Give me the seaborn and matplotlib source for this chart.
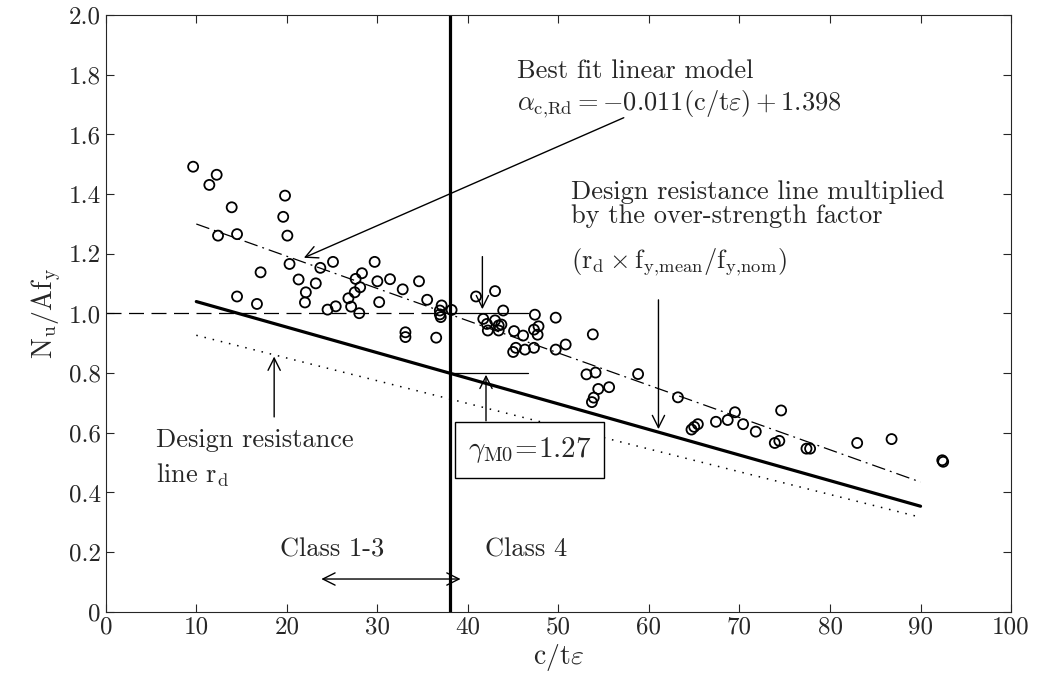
import matplotlib
matplotlib.use("Agg")
import matplotlib.pyplot as plt
import seaborn as sns
import pandas as pd

# ---------------- data ----------------
slenderness = [9.65, 12.25, 11.44, 13.91, 19.8, 19.6, 20.06, 12.4, 14.5, 17.1,
               20.3, 21.3, 22.1, 22.0, 14.5, 16.7, 23.2, 23.7, 25.1, 24.5,
               25.4, 26.8, 27.1, 27.5, 28.1, 27.6, 28.3, 28.0, 29.7, 30.0,
               30.2, 31.4, 32.8, 34.6, 35.5, 37.1, 36.9, 36.9, 37.0, 38.2,
               33.1, 33.1, 36.5, 40.9, 43.0, 43.9, 41.7, 42.1, 42.2, 43.0,
               43.4, 43.4, 43.7, 45.1, 46.1, 47.4, 47.8, 47.3, 47.7, 49.7,
               45.0, 45.3, 46.3, 47.3, 49.7, 50.8, 53.8, 53.1, 54.1, 54.4,
               55.6, 53.9, 53.7, 58.8, 63.2, 64.7, 65.0, 65.4, 67.4, 68.7,
               69.5, 70.4, 71.8, 74.6, 73.9, 74.4, 77.4, 77.8, 83.0, 86.8,
               92.4, 92.5]
resistance = [1.492, 1.465, 1.431, 1.356, 1.395, 1.324, 1.261, 1.261, 1.266, 1.138,
              1.166, 1.114, 1.071, 1.037, 1.057, 1.032, 1.101, 1.153, 1.173, 1.013,
              1.024, 1.051, 1.023, 1.071, 1.088, 1.116, 1.135, 1.001, 1.173, 1.108,
              1.038, 1.115, 1.081, 1.108, 1.046, 1.027, 1.010, 0.997, 0.988, 1.012,
              0.937, 0.921, 0.919, 1.057, 1.075, 1.010, 0.982, 0.965, 0.943, 0.977,
              0.960, 0.943, 0.963, 0.941, 0.926, 0.996, 0.957, 0.946, 0.929, 0.986,
              0.871, 0.885, 0.879, 0.885, 0.879, 0.896, 0.930, 0.796, 0.802, 0.747,
              0.753, 0.718, 0.703, 0.797, 0.719, 0.611, 0.620, 0.629, 0.637, 0.643,
              0.669, 0.629, 0.604, 0.675, 0.566, 0.573, 0.547, 0.547, 0.566, 0.579,
              0.508, 0.503]

fit_x = [10, 90]
fit_y = [1.30, 0.435]
design_over_x = [10, 90]
design_over_y = [1.04, 0.354]
design_x = [10, 90]
design_y = [0.927, 0.317]
unity_x = [0, 38]
unity_y = [1.0, 1.0]
class_limit = 38

x_ticks = [0, 10, 20, 30, 40, 50, 60, 70, 80, 90, 100]
x_ticklabels = ["0", "10", "20", "30", "40", "50", "60", "70", "80", "90", "100"]
y_ticks = [0, 0.2, 0.4, 0.6, 0.8, 1.0, 1.2, 1.4, 1.6, 1.8, 2.0]
y_ticklabels = ["0", "0.2", "0.4", "0.6", "0.8", "1.0", "1.2", "1.4", "1.6", "1.8", "2.0"]

# ---------------- style ----------------
sns.set_style("ticks")
plt.rcParams["font.family"] = ["serif"]
plt.rcParams["font.serif"] = ["cmr10", "DejaVu Serif"]
plt.rcParams["mathtext.fontset"] = "cm"
plt.rcParams["axes.unicode_minus"] = False
plt.rcParams["axes.formatter.use_mathtext"] = True

fig = plt.figure(figsize=(10.37, 6.89), dpi=100)
ax = fig.add_axes([0.102, 0.112, 0.873, 0.866])

df_pts = pd.DataFrame({"x": slenderness, "y": resistance})
sns.scatterplot(data=df_pts, x="x", y="y", ax=ax, marker="o", s=52,
                facecolor="none", edgecolor="black", linewidth=1.3, zorder=3)

sns.lineplot(x=fit_x, y=fit_y, ax=ax, color="black", lw=0.9,
             linestyle=(0, (11, 4, 1.5, 4)), zorder=2)
sns.lineplot(x=design_over_x, y=design_over_y, ax=ax, color="black", lw=2.3, zorder=2)
sns.lineplot(x=design_x, y=design_y, ax=ax, color="black", lw=1.1,
             linestyle=(0, (1, 4.5)), zorder=2)
sns.lineplot(x=unity_x, y=unity_y, ax=ax, color="black", lw=0.9,
             linestyle=(0, (12, 6)), zorder=2)
ax.axvline(class_limit, color="black", lw=2.3, zorder=2)

# ratio marks
ax.plot([38, 46.6], [1.0, 1.0], color="black", lw=0.9)
ax.plot([38, 46.6], [0.8, 0.8], color="black", lw=0.9)

ap = dict(arrowstyle="->", color="black", lw=1.0, mutation_scale=22)
fs = 19

# Best fit annotation
ax.text(45.4, 1.813, "Best fit linear model", fontsize=fs, va="center", ha="left")
ax.text(45.4, 1.702, r"$\alpha_{\mathrm{c{,}Rd}} = -0.011(\mathrm{c/t}\varepsilon) + 1.398$",
        fontsize=fs, va="center", ha="left")
ax.annotate("", xy=(21.6, 1.183), xytext=(57.5, 1.66), arrowprops=ap)

# Design resistance line multiplied
ax.text(51.4, 1.406, "Design resistance line multiplied", fontsize=fs, va="center", ha="left")
ax.text(51.4, 1.328, "by the over-strength factor", fontsize=fs, va="center", ha="left")
ax.text(51.4, 1.172, r"$(\mathrm{r_d} \times \mathrm{f_{y{,}mean}/f_{y{,}nom}})$",
        fontsize=fs, va="center", ha="left")
ax.annotate("", xy=(61.05, 0.603), xytext=(61.05, 1.055), arrowprops=ap)

# Design resistance line r_d
ax.text(5.6, 0.575, "Design resistance", fontsize=fs, va="center", ha="left")
ax.text(5.6, 0.458, r"line $\mathrm{r_d}$", fontsize=fs, va="center", ha="left")
ax.annotate("", xy=(18.6, 0.865), xytext=(18.6, 0.644), arrowprops=ap)

# gamma M0
ax.text(46.8, 0.543, r"$\gamma_{\mathrm{M0}}\!=\!1.27$", fontsize=21, va="center", ha="center",
        bbox=dict(boxstyle="square,pad=0.45", facecolor="white", edgecolor="black", lw=1.0))
ax.annotate("", xy=(42.0, 0.804), xytext=(42.0, 0.631), arrowprops=ap)
ax.annotate("", xy=(41.6, 1.005), xytext=(41.6, 1.2), arrowprops=ap)

# Class arrows
ax.text(19.2, 0.21, "Class 1-3", fontsize=fs, va="center", ha="left")
ax.text(41.9, 0.21, "Class 4", fontsize=fs, va="center", ha="left")
ax.annotate("", xy=(23.5, 0.11), xytext=(39.5, 0.11),
            arrowprops=dict(arrowstyle="<->", color="black", lw=1.0, mutation_scale=22))

ax.set_xlim(0, 100)
ax.set_ylim(0, 2.0)
ax.set_xticks(x_ticks)
ax.set_xticklabels(x_ticklabels)
ax.set_yticks(y_ticks)
ax.set_yticklabels(y_ticklabels)
ax.tick_params(direction="in", top=True, right=True, labelsize=18, length=6, width=0.8)
for sp in ax.spines.values():
    sp.set_linewidth(0.8)
    sp.set_visible(True)
ax.set_xlabel(r"$\mathrm{c/t}\varepsilon$", fontsize=20, labelpad=2)
ax.set_ylabel(r"$\mathrm{N_u/Af_y}$", fontsize=20, labelpad=4)

fig.savefig("out.png", dpi=100)
